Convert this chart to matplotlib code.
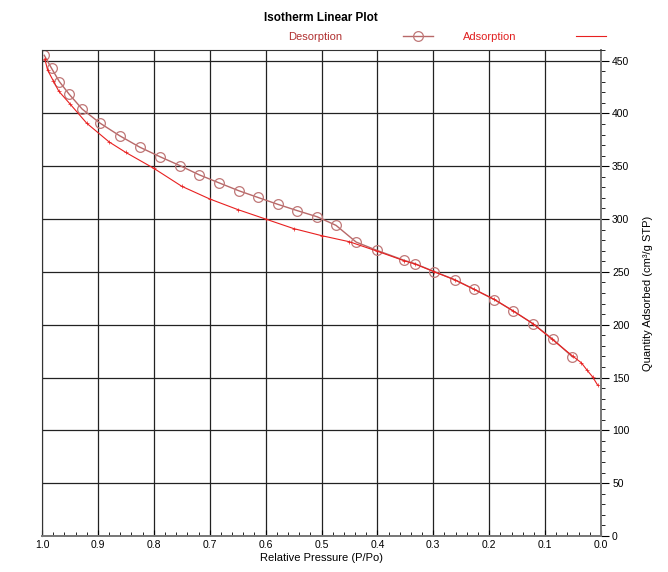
import numpy as np
import matplotlib
matplotlib.use('Agg')
from matplotlib import pyplot as plt
from matplotlib.ticker import MultipleLocator

plt.rcParams['font.family'] = ['Liberation Sans', 'DejaVu Sans']

# Adsorption branch (plain red line with small ticks)
ads_p = [0.006, 0.015, 0.025, 0.035, 0.05, 0.087, 0.122, 0.157, 0.191, 0.227,
         0.262, 0.298, 0.333, 0.352, 0.40, 0.45, 0.50, 0.55, 0.60, 0.65,
         0.70, 0.75, 0.80, 0.85, 0.88, 0.92, 0.95, 0.97, 0.98, 0.99, 0.995]
ads_q = [142.8, 150.6, 157.0, 163.9, 170.0, 186.0, 201.0, 213.0, 224.0, 233.5,
         242.5, 250.0, 257.5, 260.5, 269.5, 278.5, 284.3, 291.0, 300.0, 309.0,
         319.0, 331.0, 348.0, 363.0, 373.0, 390.7, 409.0, 421.0, 431.0, 441.0, 451.6]

# Desorption branch (circles)
des_p = [0.996, 0.983, 0.969, 0.952, 0.928, 0.896, 0.861, 0.825, 0.789, 0.753,
         0.719, 0.684, 0.648, 0.614, 0.578, 0.543, 0.508, 0.474, 0.438, 0.401,
         0.352, 0.333, 0.298, 0.262, 0.227, 0.191, 0.157, 0.122, 0.086, 0.051]
des_q = [455.0, 442.7, 430.1, 418.5, 404.0, 390.7, 378.8, 368.0, 359.0, 350.5,
         341.9, 334.4, 326.8, 320.5, 313.9, 307.9, 302.2, 294.0, 278.2, 270.4,
         260.9, 257.8, 250.2, 242.7, 233.5, 223.8, 213.0, 201.1, 186.2, 169.5]

fig = plt.figure(figsize=(6.68, 5.72), dpi=100)
ax = fig.add_axes([0.0629, 0.0629, 0.8368, 0.8497])

ax.plot(des_p, des_q, color='#b86868', lw=1, marker='o', ms=7,
        mfc='none', mec='#c07878', mew=0.9, label='Desorption')
ax.plot(ads_p, ads_q, color='#e82020', lw=0.8, marker='+', ms=3,
        mew=0.5, label='Adsorption')

ax.set_xlim(1.0, 0.0)
ax.set_ylim(0, 460)
ax.xaxis.set_major_locator(MultipleLocator(0.1))
ax.xaxis.set_minor_locator(MultipleLocator(0.02))
ax.yaxis.set_major_locator(MultipleLocator(50))
ax.yaxis.set_minor_locator(MultipleLocator(10))
ax.xaxis.set_major_formatter(lambda v, pos: f'{v:.1f}')

ax.yaxis.tick_right()
ax.yaxis.set_label_position('right')
ax.tick_params(axis='x', which='major', direction='in', length=4, labelsize=7.5, pad=3)
ax.tick_params(axis='x', which='minor', direction='in', length=3)
ax.tick_params(axis='y', which='major', direction='out', length=6, labelsize=7.5, pad=2)
ax.tick_params(axis='y', which='minor', direction='out', length=3)

ax.grid(True, which='major', color='#222222', lw=0.9)
for s in ['top', 'left']:
    ax.spines[s].set_color('#333333')
for s in ['bottom', 'right']:
    ax.spines[s].set_color('#777777')
    ax.spines[s].set_linewidth(1.4)

ax.set_xlabel('Relative Pressure (P/Po)', fontsize=8, labelpad=2)
ax.set_ylabel('Quantity Adsorbed (cm³/g STP)', fontsize=8, rotation=90, labelpad=10)

fig.text(0.481, 0.968, 'Isotherm Linear Plot', ha='center', va='center',
         fontsize=8.5, fontweight='bold')

leg = ax.legend(loc='lower center', bbox_to_anchor=(0.725, 1.0), ncol=2,
                markerfirst=False, frameon=False, fontsize=8,
                columnspacing=2.7, handlelength=2.7, handletextpad=5.4,
                borderaxespad=0.3)
leg.get_texts()[0].set_color('#b03030')
leg.get_texts()[1].set_color('#e02020')
leg.legend_handles[1].set_marker('')

fig.savefig('out.png', dpi=100)
